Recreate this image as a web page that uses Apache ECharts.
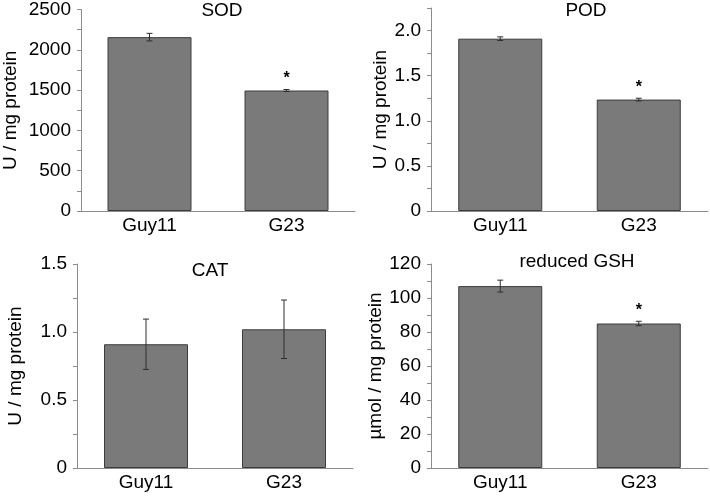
<!DOCTYPE html>
<html>
<head>
<meta charset="utf-8">
<script src="https://cdn.jsdelivr.net/npm/echarts@6/dist/echarts.min.js"></script>
<style>
  html, body { margin: 0; padding: 0; background: #fff; }
  #chart { width: 710px; height: 496px; }
</style>
</head>
<body>
<div id="chart"></div>
<script>
// strains
const categories = ['Guy11', 'G23'];

// SOD
const sodMean = [2157, 1495];
const sodErr = [47, 12];
const sodStar = ['', '*'];
const sodLabels = ['0', '500', '1000', '1500', '2000', '2500'];

// POD
const podMean = [1.91, 1.235];
const podErr = [0.02, 0.015];
const podStar = ['', '*'];
const podLabels = ['0', '0.5', '1.0', '1.5', '2.0'];

// CAT
const catMean = [0.91, 1.02];
const catErr = [0.185, 0.215];
const catStar = ['', ''];
const catLabels = ['0', '0.5', '1.0', '1.5'];

// reduced GSH
const gshMean = [107, 85];
const gshErr = [3.5, 1.3];
const gshStar = ['', '*'];
const gshLabels = ['0', '20', '40', '60', '80', '100', '120'];

const FONT = 'Liberation Sans, Arial, sans-serif';
const AXIS_COLOR = '#8c8c8c';
const TEXT_COLOR = '#000';

const chart = echarts.init(document.getElementById('chart'));

// major ticks plus one minor tick between each pair
function tickValues(labels, max) {
  const vals = labels.map(Number);
  const step = vals[1] - vals[0];
  const out = [];
  vals.forEach(v => {
    out.push(v);
    if (v + step / 2 <= max + 1e-9) out.push(v + step / 2);
  });
  return out;
}

function yAxis(idx, labels, max, name, gap) {
  return {
    type: 'value',
    gridIndex: idx,
    min: 0,
    max: max,
    name: name,
    nameLocation: 'middle',
    nameGap: gap,
    nameTextStyle: { fontFamily: FONT, fontSize: 19, color: TEXT_COLOR },
    splitLine: { show: false },
    axisLine: { show: true, lineStyle: { color: AXIS_COLOR, width: 1 } },
    axisTick: {
      show: true, inside: false, length: 4,
      customValues: tickValues(labels, max),
      lineStyle: { color: AXIS_COLOR }
    },
    axisLabel: {
      customValues: labels.map(Number),
      formatter: v => labels[labels.map(Number).indexOf(v)] || '',
      margin: 10,
      fontFamily: FONT, fontSize: 19, color: TEXT_COLOR
    }
  };
}

function xAxis(idx) {
  return {
    type: 'category',
    gridIndex: idx,
    data: categories,
    axisLine: { show: true, lineStyle: { color: AXIS_COLOR, width: 1 } },
    axisTick: { show: false },
    axisLabel: { margin: 5, fontFamily: FONT, fontSize: 19, color: TEXT_COLOR }
  };
}

function barSeries(idx, mean) {
  return {
    type: 'bar',
    xAxisIndex: idx,
    yAxisIndex: idx,
    data: mean,
    barWidth: 84,
    itemStyle: { color: '#7a7a7a', borderColor: '#3c3c3c', borderWidth: 1 },
    silent: true
  };
}

function errSeries(idx, mean, err, star) {
  return {
    type: 'custom',
    xAxisIndex: idx,
    yAxisIndex: idx,
    data: mean.map((m, i) => [i, m, err[i]]),
    z: 5,
    silent: true,
    renderItem: function (params, api) {
      const i = api.value(0);
      const m = api.value(1);
      const e = api.value(2);
      const top = api.coord([i, m + e]);
      const bot = api.coord([i, m - e]);
      const cap = 3;
      const style = { stroke: '#2e2e2e', lineWidth: 1 };
      const children = [
        { type: 'line', shape: { x1: top[0], y1: top[1], x2: bot[0], y2: bot[1] }, style: style },
        { type: 'line', shape: { x1: top[0] - cap, y1: top[1], x2: top[0] + cap, y2: top[1] }, style: style },
        { type: 'line', shape: { x1: bot[0] - cap, y1: bot[1], x2: bot[0] + cap, y2: bot[1] }, style: style }
      ];
      if (star[i]) {
        children.push({
          type: 'text',
          x: top[0], y: top[1] - 11,
          style: {
            text: star[i], fill: TEXT_COLOR, font: 'bold 16px ' + FONT,
            textAlign: 'center', textVerticalAlign: 'middle'
          }
        });
      }
      return { type: 'group', children: children };
    }
  };
}

function title(text, cx, top) {
  return {
    text: text, left: cx, top: top, textAlign: 'center', padding: 0,
    textStyle: { fontFamily: FONT, fontSize: 19, fontWeight: 'normal', color: TEXT_COLOR }
  };
}

chart.setOption({
  animation: false,
  title: [
    title('SOD', 222, 1),
    title('POD', 586, 1),
    title('CAT', 210, 261),
    title('reduced GSH', 577, 252)
  ],
  grid: [
    { left: 78, top: 7, width: 277, height: 204 },
    { left: 431, top: 8, width: 277, height: 203 },
    { left: 77, top: 264, width: 276, height: 204 },
    { left: 431, top: 264, width: 277, height: 204 }
  ],
  xAxis: [xAxis(0), xAxis(1), xAxis(2), xAxis(3)],
  yAxis: [
    yAxis(0, sodLabels, 2500, 'U / mg protein', 61),
    yAxis(1, podLabels, 2.25, 'U / mg protein', 40),
    yAxis(2, catLabels, 1.5, 'U / mg protein', 52),
    yAxis(3, gshLabels, 120, 'µmol / mg protein', 41)
  ],
  series: [
    barSeries(0, sodMean), errSeries(0, sodMean, sodErr, sodStar),
    barSeries(1, podMean), errSeries(1, podMean, podErr, podStar),
    barSeries(2, catMean), errSeries(2, catMean, catErr, catStar),
    barSeries(3, gshMean), errSeries(3, gshMean, gshErr, gshStar)
  ]
});
</script>
</body>
</html>
